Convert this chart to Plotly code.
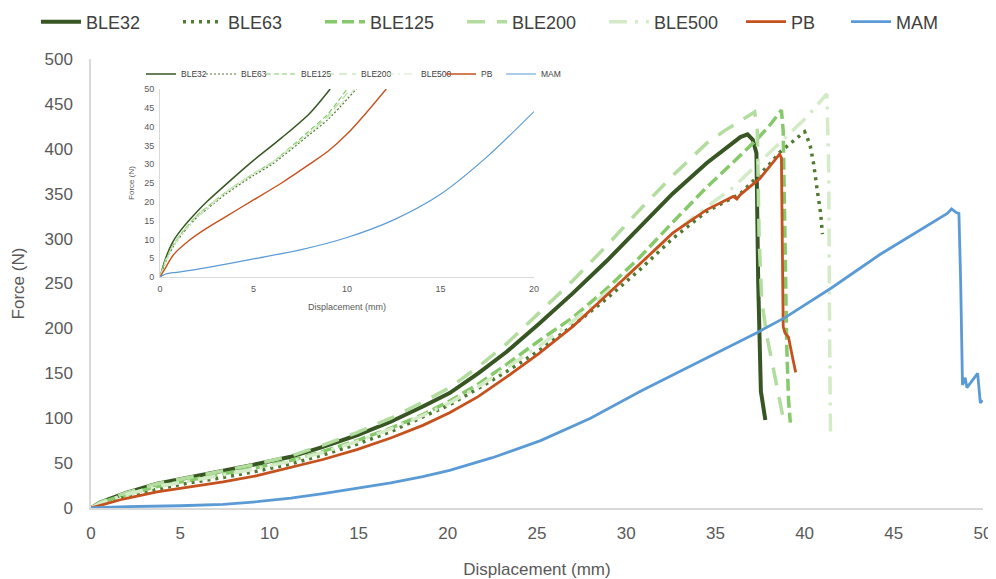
import plotly.graph_objects as go

# ---------------- main chart data (Displacement mm, Force N) ----------------
ble32_x = [0, 0.5, 1, 2, 3.7, 5.5, 7.4, 9.3, 11.2, 13, 14.9, 16.8, 18.6, 20.1, 21.7, 23.3, 25.1, 27.0, 28.9, 30.8, 32.6, 34.5, 35.5, 36.4, 36.8, 37.1, 37.3, 37.4, 37.55, 37.7, 37.8]
ble32_y = [0, 6, 10, 17, 27, 34, 41, 49, 57, 68, 81, 96, 113, 128, 150, 174, 205, 239, 275, 313, 350, 384, 400, 413, 416, 410, 395, 250, 130, 112, 98]

ble63_x = [0, 0.5, 1, 2, 3.7, 5.5, 7.4, 9.3, 11.2, 13, 14.9, 16.8, 18.6, 20.1, 21.7, 23.3, 25.1, 27.0, 28.9, 30.8, 32.6, 34.5, 36.4, 38.0, 38.6, 39.3, 40.0, 40.3, 40.5, 40.7, 40.9, 41.0]
ble63_y = [0, 4, 8, 13, 21, 28, 34, 41, 49, 59, 71, 85, 101, 115, 133, 152, 175, 203, 233, 266, 300, 330, 350, 382, 396, 408, 419, 405, 384, 355, 328, 305]

ble125_x = [0, 0.5, 1, 2, 3.7, 5.5, 7.4, 9.3, 11.2, 13, 14.9, 16.8, 18.6, 20.1, 21.7, 23.3, 25.1, 27.0, 28.9, 30.8, 32.6, 34.5, 36.0, 37.3, 38.0, 38.7, 38.8, 38.9, 39.0, 39.1, 39.2]
ble125_y = [0, 5, 9, 15, 24, 31, 38, 45, 53, 63, 75, 89, 104, 119, 138, 160, 186, 212, 244, 280, 318, 357, 385, 410, 425, 443, 420, 300, 180, 120, 95]

ble200_x = [0, 0.5, 1, 2, 3.7, 5.5, 7.4, 9.3, 11.2, 13, 14.9, 16.8, 18.6, 20.1, 21.7, 23.3, 25.1, 27.0, 28.9, 30.8, 32.6, 34.5, 35.5, 36.5, 37.2, 37.35, 37.45, 37.6, 37.9, 38.2, 38.5, 38.8]
ble200_y = [0, 6, 10, 17, 27, 34, 41, 49, 58, 70, 84, 100, 118, 134, 157, 183, 217, 253, 292, 333, 370, 406, 420, 432, 441, 420, 300, 230, 190, 160, 130, 100]

ble500_x = [0, 0.5, 1, 2, 3.7, 5.5, 7.4, 9.3, 11.2, 13, 14.9, 16.8, 18.6, 20.1, 21.7, 23.3, 25.1, 27.0, 28.9, 30.8, 32.6, 34.5, 36.0, 38.0, 40.1, 41.25, 41.35, 41.4, 41.45]
ble500_y = [0, 5, 9, 15, 24, 30, 37, 44, 52, 62, 74, 88, 103, 117, 135, 156, 180, 208, 240, 272, 305, 335, 357, 395, 435, 461, 380, 200, 84]

pb_x = [0, 0.5, 1, 1.8, 3.7, 5.5, 7.4, 9.3, 11.2, 13, 14.9, 16.8, 18.6, 20.1, 21.7, 23.3, 25.1, 27.0, 28.9, 30.8, 32.6, 34.5, 36.0, 36.2, 36.4, 37.5, 38.6, 38.7, 38.75, 38.8, 38.9, 39.1, 39.3, 39.5]
pb_y = [0, 3, 6, 10, 18, 23, 29, 36, 45, 54, 65, 78, 92, 106, 124, 146, 172, 202, 237, 273, 306, 332, 347, 344, 349, 367, 394, 390, 300, 202, 195, 190, 170, 151]

mam_x = [0, 2, 5, 7.4, 9.3, 11.2, 13, 14.9, 16.8, 18.6, 20.1, 22.5, 25.2, 28, 30.8, 33, 34.5, 37.3, 38.9, 41.5, 44.2, 46.1, 47.2, 48.0, 48.24, 48.5, 48.65, 48.75, 48.85, 49.0, 49.1, 49.4, 49.7, 49.85, 49.97]
mam_y = [0, 1.5, 2.5, 4, 7, 11, 16, 22, 28, 35, 42, 56, 75, 100, 130, 152, 167, 195, 212, 245, 282, 305, 318, 328, 333, 329, 328, 250, 137, 145, 134, 142, 150, 117, 120]

# ---------------- inset data (0-20 mm, 0-50 N) ----------------
in_ble32_x = [0, 0.3, 0.7, 1.2, 2, 2.5, 3.5, 5, 6.5, 8, 9.1]
in_ble32_y = [0, 5, 9.5, 13, 17.5, 20, 24.5, 31, 37, 43.5, 50]
in_ble63_x = [0, 0.3, 0.7, 1.2, 2, 2.5, 3.5, 5, 6, 7.9, 9, 10.5]
in_ble63_y = [0, 4, 8, 11.5, 16, 18, 22, 27, 30, 37.5, 42, 50]
in_ble125_x = [0, 0.3, 0.7, 1.2, 2, 2.5, 3.5, 5, 6, 7.9, 9, 10.0]
in_ble125_y = [0, 4.5, 8.5, 12, 16.5, 18.5, 22.5, 27.5, 30.5, 38.5, 43.5, 50]
in_ble200_x = [0, 0.3, 0.7, 1.2, 2, 2.5, 3.5, 5, 6, 7.9, 9, 10.2]
in_ble200_y = [0, 4.5, 8.5, 12, 16.5, 18.5, 22.5, 27.5, 30.5, 38, 43, 50]
in_ble500_x = [0, 0.3, 0.7, 1.2, 2, 2.5, 3.5, 5, 6, 7.9, 9, 10.4]
in_ble500_y = [0, 4, 8, 11.5, 16, 18, 22.5, 27.5, 30.5, 38, 42.5, 50]
in_pb_x = [0, 0.3, 0.7, 1.5, 2.5, 3.5, 5, 6.5, 8, 9, 10, 11, 12.1]
in_pb_y = [0, 2.5, 5.8, 9.5, 13, 16, 20.5, 25, 30, 33.5, 38, 43.5, 50]
in_mam_x = [0, 0.3, 1, 2.5, 5, 7.5, 10, 12.5, 15, 17.5, 20]
in_mam_y = [0, 0.8, 1.3, 2.5, 4.8, 7.2, 10.5, 15.2, 22, 32, 44]

names = ["BLE32", "BLE63", "BLE125", "BLE200", "BLE500", "PB", "MAM"]
colors = ["#375623", "#4f7a32", "#86c96a", "#b2dd9e", "#d3ebc6", "#c5521e", "#5b9bd5"]

main_series = [(ble32_x, ble32_y), (ble63_x, ble63_y), (ble125_x, ble125_y),
               (ble200_x, ble200_y), (ble500_x, ble500_y), (pb_x, pb_y), (mam_x, mam_y)]
inset_series = [(in_ble32_x, in_ble32_y), (in_ble63_x, in_ble63_y), (in_ble125_x, in_ble125_y),
                (in_ble200_x, in_ble200_y), (in_ble500_x, in_ble500_y), (in_pb_x, in_pb_y), (in_mam_x, in_mam_y)]

main_dash = ["solid", "3px,5px", "12px,5px", "18px,12px", "18px,8px,3px,8px", "solid", "solid"]
main_width = [4, 3.5, 3.5, 3.5, 3.5, 2.8, 2.8]
inset_dash = ["solid", "2px,2px", "5px,3px", "8px,5px", "8px,4px,2px,4px", "solid", "solid"]
inset_width = [1.5, 1.2, 1.2, 1.2, 1.2, 1.4, 1.2]
# main legend split in two groups so the single row spreads like the reference
main_legend_ids = ["legend", "legend", "legend", "legend", "legend", "legend3", "legend3"]

fig = go.Figure()
for i, name in enumerate(names):
    x, y = main_series[i]
    fig.add_trace(go.Scatter(x=x, y=y, mode="lines", name=name,
                             line=dict(color=colors[i], width=main_width[i], dash=main_dash[i]),
                             xaxis="x", yaxis="y", legend=main_legend_ids[i]))
for i, name in enumerate(names):
    x, y = inset_series[i]
    fig.add_trace(go.Scatter(x=x, y=y, mode="lines", name=name,
                             line=dict(color=colors[i], width=inset_width[i], dash=inset_dash[i],
                                       shape="spline", smoothing=0.8),
                             xaxis="x2", yaxis="y2", legend="legend2"))

font_family = "Liberation Sans, Arial, sans-serif"
axis_col = "#d9d9d9"
tick_col = "#595959"

# page body adds an 8px offset: figure coordinates are shifted accordingly
fig.update_layout(
    width=996, height=579,
    margin=dict(l=83, r=21, t=51, b=79, autoexpand=False),
    paper_bgcolor="white", plot_bgcolor="white",
    font=dict(family=font_family, color=tick_col),
    xaxis=dict(range=[0, 50], dtick=5, showgrid=False, zeroline=False, automargin=False,
               showline=True, linecolor=axis_col, linewidth=1.5, ticks="", ticklabelstandoff=9,
               tickfont=dict(size=17, color=tick_col),
               title=dict(text="Displacement (mm)", font=dict(size=17, color=tick_col), standoff=21)),
    yaxis=dict(range=[0, 500], dtick=50, showgrid=False, zeroline=False, automargin=False,
               showline=True, linecolor=axis_col, linewidth=1.5, ticks="", ticklabelstandoff=13,
               tickfont=dict(size=17, color=tick_col),
               title=dict(text="Force (N)", font=dict(size=17, color=tick_col), standoff=16)),
    xaxis2=dict(domain=[0.0774, 0.4966], anchor="y2", range=[0, 20], dtick=5, automargin=False,
                showgrid=False, zeroline=False, showline=True, linecolor=axis_col, linewidth=1,
                ticks="", tickfont=dict(size=9, color=tick_col), ticklabelstandoff=3,
                title=dict(text="Displacement (mm)", font=dict(size=9, color=tick_col), standoff=10)),
    yaxis2=dict(domain=[0.5145, 0.9332], anchor="x2", range=[0, 50], dtick=5, automargin=False,
                showgrid=False, zeroline=False, showline=True, linecolor=axis_col, linewidth=1,
                ticks="", tickfont=dict(size=9, color=tick_col), ticklabelstandoff=3,
                title=dict(text="Force (N)", font=dict(size=8, color=tick_col), standoff=8)),
    legend=dict(orientation="h", x=28 / 996, xanchor="left", xref="container",
                y=1 - 14 / 579, yanchor="middle", yref="container",
                font=dict(size=18, color="#404040"), entrywidth=87, itemwidth=40,
                bgcolor="rgba(0,0,0,0)", tracegroupgap=0),
    legend3=dict(orientation="h", x=733 / 996, xanchor="left", xref="container",
                 y=1 - 14 / 579, yanchor="middle", yref="container",
                 font=dict(size=18, color="#404040"), entrywidth=50, itemwidth=40,
                 bgcolor="rgba(0,0,0,0)", tracegroupgap=0),
    legend2=dict(orientation="h", x=343 / 996, xanchor="center", xref="container",
                 y=1 - 66 / 579, yanchor="middle", yref="container",
                 font=dict(size=8.5, color="#404040"), itemwidth=30, entrywidth=15,
                 bgcolor="rgba(0,0,0,0)"),
    showlegend=True,
)

fig.write_html("out.html")
